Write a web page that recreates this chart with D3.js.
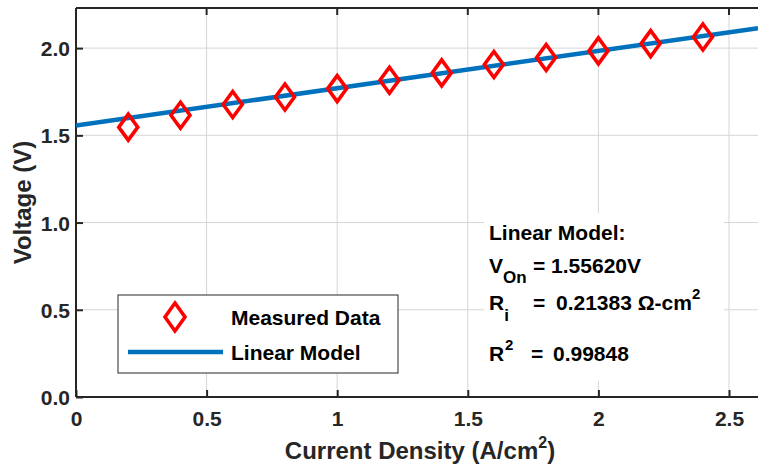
<!DOCTYPE html>
<html>
<head>
<meta charset="utf-8">
<script src="https://cdn.jsdelivr.net/npm/d3@7"></script>
<style>
  html, body { margin: 0; padding: 0; background: #fff; }
  svg { display: block; font-family: "Liberation Sans", Arial, Helvetica, sans-serif; font-weight: bold; }
</style>
</head>
<body>
<svg id="chart" width="758" height="469"></svg>
<script>
// Polarization data: current density (A/cm^2) vs. cell voltage (V)
const currentDensity = [0.2, 0.4, 0.6, 0.8, 1.0, 1.2, 1.4, 1.6, 1.8, 2.0, 2.2, 2.4];
const measuredVoltage = [1.547, 1.615, 1.677, 1.720, 1.768, 1.816, 1.858, 1.906, 1.946, 1.984, 2.026, 2.064];

// Linear fit parameters: V = Von + Ri * J
const vOn = 1.55620;
const rI = 0.21383;
const rSquared = 0.99848;

const xTicks = [0, 0.5, 1, 1.5, 2, 2.5];
const yTicks = [0, 0.5, 1.0, 1.5, 2.0];
const xDomain = [0, 2.5];
const yDomain = [0, 2.23];

const svg = d3.select("#chart");
const W = 758, H = 469;
const plotLeft = 76, plotTop = 8, plotBottom = 397;
const axisColor = "#262626";

const x = d3.scaleLinear().domain(xDomain).range([plotLeft, 729]);
const y = d3.scaleLinear().domain(yDomain).range([plotBottom, plotTop]);
const xMaxVisible = x.invert(W);

svg.append("defs").append("clipPath").attr("id", "plotClip")
  .append("rect").attr("x", plotLeft).attr("y", plotTop)
  .attr("width", W - plotLeft).attr("height", plotBottom - plotTop);

// Grid
const grid = svg.append("g").attr("stroke", "#d6d6d6").attr("stroke-width", 1);
grid.selectAll("line.gx").data(xTicks.filter(d => d > 0)).join("line").attr("class", "gx")
  .attr("x1", d => x(d)).attr("x2", d => x(d)).attr("y1", plotTop).attr("y2", plotBottom);
grid.selectAll("line.gy").data(yTicks.filter(d => d > 0)).join("line").attr("class", "gy")
  .attr("x1", plotLeft).attr("x2", W).attr("y1", d => y(d)).attr("y2", d => y(d));

// White panel behind the model summary
svg.append("rect").attr("x", 484).attr("y", 213).attr("width", 240).attr("height", 168).attr("fill", "#fff");

// Axes with inward ticks
const xAxis = svg.append("g").attr("transform", `translate(0,${plotBottom})`)
  .call(d3.axisBottom(x).tickValues(xTicks).tickSize(-7).tickPadding(14).tickFormat(d3.format("~g")));
const yAxis = svg.append("g").attr("transform", `translate(${plotLeft},0)`)
  .call(d3.axisLeft(y).tickValues(yTicks).tickSize(-7).tickPadding(6).tickFormat(d3.format(".1f")));
[xAxis, yAxis].forEach(g => {
  g.select(".domain").remove();
  g.selectAll(".tick line").attr("stroke", axisColor).attr("stroke-width", 2);
  g.selectAll(".tick text").attr("fill", axisColor).attr("font-size", 21)
    .attr("font-family", "Liberation Sans, Arial, sans-serif").attr("font-weight", "bold");
});
yAxis.selectAll(".tick text").attr("dy", "0.36em");

// Top-edge ticks
svg.append("g").selectAll("line").data(xTicks.filter(d => d > 0)).join("line")
  .attr("x1", d => x(d)).attr("x2", d => x(d)).attr("y1", plotTop).attr("y2", plotTop + 7)
  .attr("stroke", axisColor).attr("stroke-width", 2);

// Axis box lines
svg.append("line").attr("x1", plotLeft).attr("x2", W).attr("y1", plotBottom).attr("y2", plotBottom)
  .attr("stroke", axisColor).attr("stroke-width", 2);
svg.append("line").attr("x1", plotLeft).attr("x2", W).attr("y1", plotTop).attr("y2", plotTop)
  .attr("stroke", axisColor).attr("stroke-width", 2);
svg.append("line").attr("x1", plotLeft).attr("x2", plotLeft).attr("y1", plotTop).attr("y2", plotBottom)
  .attr("stroke", axisColor).attr("stroke-width", 2);

// Model line
const plot = svg.append("g").attr("clip-path", "url(#plotClip)");
const modelX = [0, xMaxVisible];
plot.append("path")
  .datum(modelX.map(j => [j, vOn + rI * j]))
  .attr("d", d3.line().x(d => x(d[0])).y(d => y(d[1])))
  .attr("fill", "none").attr("stroke", "#0072BD").attr("stroke-width", 4.5);

// Diamond markers
const diamond = (hw, hh) => `M0,${-hh}L${hw},0L0,${hh}L${-hw},0Z`;
plot.selectAll("path.pt").data(currentDensity).join("path")
  .attr("class", "pt")
  .attr("transform", (d, i) => `translate(${x(d)},${y(measuredVoltage[i])})`)
  .attr("d", diamond(9.5, 13))
  .attr("fill", "none").attr("stroke", "#ff0000").attr("stroke-width", 3.6);

// Axis titles
const xt = svg.append("text").attr("x", (plotLeft + W) / 2 + 3).attr("y", 459)
  .attr("text-anchor", "middle").attr("font-size", 24).attr("fill", axisColor);
xt.append("tspan").text("Current Density (A/cm");
xt.append("tspan").attr("font-size", 16).attr("dy", -11).text("2");
xt.append("tspan").attr("dy", 11).text(")");

svg.append("text").attr("transform", `translate(31,${(plotTop + plotBottom) / 2}) rotate(-90)`)
  .attr("text-anchor", "middle").attr("font-size", 24).attr("fill", axisColor)
  .text("Voltage (V)");

// Legend
const lg = svg.append("g");
lg.append("rect").attr("x", 118).attr("y", 295).attr("width", 280).attr("height", 78)
  .attr("fill", "#fff").attr("stroke", axisColor).attr("stroke-width", 1);
lg.append("path").attr("transform", "translate(175,317)").attr("d", diamond(10, 14))
  .attr("fill", "none").attr("stroke", "#ff0000").attr("stroke-width", 3.6);
lg.append("line").attr("x1", 128).attr("x2", 223).attr("y1", 352).attr("y2", 352)
  .attr("stroke", "#0072BD").attr("stroke-width", 4.5);
lg.append("text").attr("x", 231).attr("y", 325).attr("font-size", 21).attr("fill", "#000").text("Measured Data");
lg.append("text").attr("x", 231).attr("y", 360).attr("font-size", 21).attr("fill", "#000").text("Linear Model");

// Model summary
const fmt5 = d3.format(".5f");
const ann = svg.append("g").attr("font-size", 21).attr("fill", "#000");
ann.append("text").attr("x", 489).attr("y", 240).text("Linear Model:");

const t1 = ann.append("text").attr("x", 489).attr("y", 273);
t1.append("tspan").text("V");
t1.append("tspan").attr("font-size", 17).attr("dy", 10).text("On");
t1.append("tspan").attr("x", 533).attr("dy", -10).text(`= ${fmt5(vOn)}V`);

const t2 = ann.append("text").attr("x", 489).attr("y", 310);
t2.append("tspan").text("R");
t2.append("tspan").attr("font-size", 17).attr("dy", 11).text("i");
t2.append("tspan").attr("x", 533).attr("dy", -11).text("=");
t2.append("tspan").attr("x", 556).text(`${fmt5(rI)} \u03A9-cm`);
t2.append("tspan").attr("font-size", 15).attr("dy", -11).text("2");

const t3 = ann.append("text").attr("x", 489).attr("y", 361);
t3.append("tspan").text("R");
t3.append("tspan").attr("x", 505).attr("font-size", 15).attr("dy", -11).text("2");
t3.append("tspan").attr("x", 531).attr("dy", 11).text("=");
t3.append("tspan").attr("x", 553).text(fmt5(rSquared));
</script>
</body>
</html>
